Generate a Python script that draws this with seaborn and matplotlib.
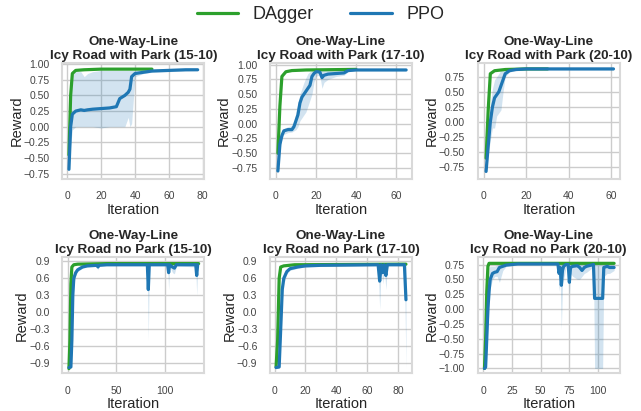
import seaborn as sns
import matplotlib.pyplot as plt

# colores de las dos series
c_dagger = '#2ca02c'
c_ppo = '#1f77b4'

titles = ['One-Way-Line\nIcy Road with Park (15-10)',
          'One-Way-Line\nIcy Road with Park (17-10)',
          'One-Way-Line\nIcy Road with Park (20-10)',
          'One-Way-Line\nIcy Road no Park (15-10)',
          'One-Way-Line\nIcy Road no Park (17-10)',
          'One-Way-Line\nIcy Road no Park (20-10)']

# --- panel 1: with park 15-10
p1_x = [1, 2, 3, 5, 8, 10, 12, 15, 20, 25, 29, 31, 34, 36, 37, 38, 40, 45, 50, 60, 70, 77]
p1_ppo = [-0.68, 0.0, 0.2, 0.25, 0.27, 0.26, 0.27, 0.28, 0.29, 0.3, 0.32, 0.45, 0.5, 0.55, 0.6, 0.8, 0.85, 0.87, 0.89, 0.9, 0.91, 0.91]
p1_lo = [-0.72, -0.3, -0.05, 0.0, 0.0, 0.0, 0.0, 0.0, -0.02, 0.0, 0.0, 0.0, 0.0, 0.15, 0.0, 0.05, 0.8, 0.85, 0.87, 0.88, 0.89, 0.9]
p1_hi = [-0.6, 0.5, 0.85, 0.88, 0.88, 0.8, 0.85, 0.88, 0.9, 0.9, 0.9, 0.9, 0.9, 0.9, 0.9, 0.9, 0.9, 0.91, 0.92, 0.93, 0.93, 0.93]
p1_dx = [1, 2, 3, 5, 10, 20, 40, 50]
p1_dag = [-0.45, 0.5, 0.85, 0.9, 0.91, 0.92, 0.92, 0.92]

# --- panel 2: with park 17-10
p2_x = [1, 2, 3, 4, 6, 8, 9, 10, 11, 12, 13, 14, 15, 16, 17, 18, 19, 20, 21, 22, 23, 24, 26, 30, 34, 36, 40, 50, 65]
p2_ppo = [-0.8, -0.35, -0.2, -0.12, -0.1, -0.1, -0.05, 0.05, 0.15, 0.35, 0.45, 0.5, 0.55, 0.6, 0.65, 0.8, 0.85, 0.88, 0.88, 0.87, 0.78, 0.82, 0.84, 0.85, 0.86, 0.9, 0.91, 0.91, 0.91]
p2_lo = [-0.85, -0.45, -0.25, -0.18, -0.15, -0.14, -0.12, -0.1, -0.05, 0.05, 0.1, 0.15, 0.2, 0.3, 0.4, 0.5, 0.7, 0.8, 0.82, 0.8, 0.6, 0.7, 0.75, 0.8, 0.82, 0.88, 0.9, 0.9, 0.9]
p2_hi = [-0.75, -0.25, -0.15, -0.08, -0.05, -0.03, 0.0, 0.2, 0.35, 0.5, 0.6, 0.7, 0.78, 0.85, 0.88, 0.9, 0.91, 0.92, 0.92, 0.92, 0.9, 0.9, 0.9, 0.9, 0.9, 0.92, 0.93, 0.93, 0.93]
p2_dx = [1, 2, 3, 5, 8, 15, 40]
p2_dag = [-0.5, 0.3, 0.8, 0.88, 0.9, 0.91, 0.92]

# --- panel 3: with park 20-10
p3_x = [1, 2, 3, 4, 5, 6, 7, 8, 9, 10, 12, 15, 20, 30, 40, 50, 61]
p3_ppo = [-0.82, -0.4, 0.0, 0.25, 0.4, 0.45, 0.5, 0.6, 0.7, 0.8, 0.85, 0.87, 0.88, 0.88, 0.88, 0.88, 0.88]
p3_lo = [-0.85, -0.55, -0.3, -0.1, -0.1, 0.1, 0.15, 0.2, 0.5, 0.75, 0.83, 0.85, 0.86, 0.86, 0.86, 0.86, 0.86]
p3_hi = [-0.78, -0.2, 0.3, 0.55, 0.7, 0.75, 0.8, 0.87, 0.87, 0.87, 0.88, 0.89, 0.89, 0.9, 0.9, 0.9, 0.9]
p3_dx = [1, 2, 3, 5, 10, 20, 30]
p3_dag = [-0.6, 0.2, 0.8, 0.85, 0.87, 0.88, 0.88]

# --- panel 4: no park 15-10
p4_x = [1, 3, 4, 5, 6, 8, 10, 15, 20, 30, 31, 32, 40, 82, 83, 84, 103, 104, 105, 108, 110, 112, 132, 133, 134]
p4_ppo = [-0.98, -0.97, -0.5, 0.3, 0.6, 0.7, 0.75, 0.8, 0.82, 0.83, 0.8, 0.83, 0.84, 0.84, 0.4, 0.84, 0.84, 0.7, 0.84, 0.8, 0.78, 0.84, 0.84, 0.65, 0.84]
p4_lo = [-1.0, -0.99, -0.7, 0.1, 0.5, 0.65, 0.72, 0.78, 0.8, 0.81, 0.75, 0.81, 0.82, 0.82, -0.5, 0.82, 0.82, 0.4, 0.82, 0.7, 0.68, 0.82, 0.8, 0.3, 0.82]
p4_hi = [-0.95, -0.9, -0.2, 0.5, 0.7, 0.76, 0.8, 0.84, 0.85, 0.86, 0.86, 0.86, 0.87, 0.87, 0.86, 0.87, 0.87, 0.86, 0.87, 0.86, 0.86, 0.87, 0.87, 0.85, 0.87]
p4_dx = [1, 2, 3, 4, 6, 10, 40, 135]
p4_dag = [-1.0, -0.5, 0.5, 0.8, 0.84, 0.85, 0.86, 0.86]

# --- panel 5: no park 17-10
p5_x = [1, 3, 4, 5, 6, 8, 10, 15, 20, 30, 67, 68, 69, 70, 71, 72, 73, 84, 85]
p5_ppo = [-0.98, -0.97, -0.3, 0.4, 0.6, 0.72, 0.77, 0.8, 0.82, 0.83, 0.84, 0.55, 0.84, 0.7, 0.84, 0.65, 0.84, 0.84, 0.22]
p5_lo = [-1.0, -0.99, -0.5, 0.2, 0.5, 0.68, 0.74, 0.78, 0.8, 0.81, 0.82, 0.05, 0.82, 0.5, 0.82, 0.4, 0.82, 0.82, -1.0]
p5_hi = [-0.95, -0.9, -0.1, 0.55, 0.7, 0.76, 0.8, 0.83, 0.85, 0.86, 0.87, 0.86, 0.87, 0.86, 0.87, 0.86, 0.87, 0.87, 0.86]
p5_dx = [1, 2, 3, 4, 6, 13, 85]
p5_dag = [-0.97, -0.5, 0.6, 0.8, 0.82, 0.84, 0.85]

# --- panel 6: no park 20-10
p6_x = [1, 2, 3, 4, 5, 6, 8, 10, 12, 14, 17, 20, 30, 60, 65, 66, 67, 68, 69, 70, 72, 74, 75, 76, 78, 82, 84, 86, 88, 90, 94, 96, 97, 104, 105, 108, 110, 114]
p6_ppo = [-1.0, -0.98, -0.5, 0.0, 0.3, 0.5, 0.6, 0.62, 0.63, 0.7, 0.72, 0.74, 0.76, 0.76, 0.76, 0.6, 0.7, 0.4, 0.65, 0.72, 0.75, 0.75, 0.45, 0.7, 0.72, 0.73, 0.7, 0.65, 0.7, 0.72, 0.74, 0.75, 0.18, 0.18, 0.7, 0.72, 0.7, 0.7]
p6_lo = [-1.0, -1.0, -0.7, -0.3, 0.0, 0.35, 0.5, 0.55, 0.55, 0.45, 0.65, 0.72, 0.74, 0.74, 0.74, 0.3, 0.5, -0.35, 0.4, 0.5, 0.7, 0.7, 0.2, 0.6, 0.55, 0.5, 0.5, 0.55, 0.6, 0.62, 0.68, 0.7, -1.0, -1.0, 0.55, 0.6, 0.6, 0.65]
p6_hi = [-0.98, -0.95, -0.2, 0.5, 0.7, 0.72, 0.72, 0.72, 0.74, 0.75, 0.76, 0.76, 0.77, 0.77, 0.77, 0.77, 0.77, 0.77, 0.77, 0.77, 0.77, 0.77, 0.77, 0.77, 0.77, 0.77, 0.77, 0.77, 0.77, 0.77, 0.77, 0.77, 0.77, 0.77, 0.77, 0.77, 0.77, 0.77]
p6_dx = [1, 2, 3, 4, 5, 10, 114]
p6_dag = [-1.0, -0.5, 0.3, 0.72, 0.77, 0.77, 0.77]

panels = [
    (p1_x, p1_ppo, p1_lo, p1_hi, p1_dx, p1_dag),
    (p2_x, p2_ppo, p2_lo, p2_hi, p2_dx, p2_dag),
    (p3_x, p3_ppo, p3_lo, p3_hi, p3_dx, p3_dag),
    (p4_x, p4_ppo, p4_lo, p4_hi, p4_dx, p4_dag),
    (p5_x, p5_ppo, p5_lo, p5_hi, p5_dx, p5_dag),
    (p6_x, p6_ppo, p6_lo, p6_hi, p6_dx, p6_dag),
]

xticks = [[0, 20, 40, 60, 80], [0, 20, 40, 60], [0, 20, 40, 60],
          [0, 50, 100], [0, 20, 40, 60, 80], [0, 25, 50, 75, 100]]
yticks = [[-0.75, -0.5, -0.25, 0, 0.25, 0.5, 0.75, 1.0],
          [-0.75, -0.5, -0.25, 0, 0.25, 0.5, 0.75, 1.0],
          [-0.75, -0.5, -0.25, 0, 0.25, 0.5, 0.75],
          [-0.9, -0.6, -0.3, 0, 0.3, 0.6, 0.9],
          [-0.9, -0.6, -0.3, 0, 0.3, 0.6, 0.9],
          [-1.0, -0.75, -0.5, -0.25, 0, 0.25, 0.5, 0.75]]
yfmt = ['{:.2f}', '{:.2f}', '{:.2f}', '{:.1f}', '{:.1f}', '{:.2f}']
xlims = [(-3, 81), (-3, 68), (-3, 64), (-6, 141), (-3, 89), (-5, 119)]
ylims = [(-0.83, 1.02), (-0.93, 1.03), (-0.94, 0.98), (-1.08, 0.97), (-1.08, 0.97), (-1.08, 0.87)]

sns.set_theme(style='whitegrid')
plt.rcParams['font.family'] = ['Liberation Sans', 'DejaVu Sans']
plt.rcParams['axes.edgecolor'] = '#d9d9d9'
plt.rcParams['axes.linewidth'] = 1.5

fig, axes = plt.subplots(2, 3, figsize=(6.41, 4.11), dpi=100)
for i, ax in enumerate(axes.flat):
    x, ppo, lo, hi, dx, dag = panels[i]
    ax.fill_between(x, lo, hi, color=c_ppo, alpha=0.2, linewidth=0)
    sns.lineplot(x=dx, y=dag, ax=ax, color=c_dagger, linewidth=2.3)
    sns.lineplot(x=x, y=ppo, ax=ax, color=c_ppo, linewidth=2.3)
    ax.set_title(titles[i], fontsize=9.7, fontweight='bold', pad=3, color='#262626')
    ax.set_xlabel('Iteration', fontsize=10.5, labelpad=1)
    ax.set_ylabel('Reward', fontsize=10.5, labelpad=0)
    ax.set_xticks(xticks[i])
    ax.set_yticks(yticks[i])
    ax.set_yticklabels([yfmt[i].format(v).replace('-', '\u2212') for v in yticks[i]])
    ax.set_xlim(xlims[i])
    ax.set_ylim(ylims[i])
    ax.tick_params(labelsize=7.5, pad=3, labelcolor='#444444')

handles = [plt.Line2D([], [], color=c_dagger, linewidth=2.3),
           plt.Line2D([], [], color=c_ppo, linewidth=2.3)]
fig.legend(handles, ['DAgger', 'PPO'], loc='upper center', ncol=2, frameon=False,
           fontsize=13, handlelength=2.3, columnspacing=2.0, handletextpad=0.8,
           bbox_to_anchor=(0.5, 1.025))

plt.subplots_adjust(left=0.097, right=0.967, top=0.847, bottom=0.092, wspace=0.46, hspace=0.68)
plt.savefig('out.png', dpi=100)
